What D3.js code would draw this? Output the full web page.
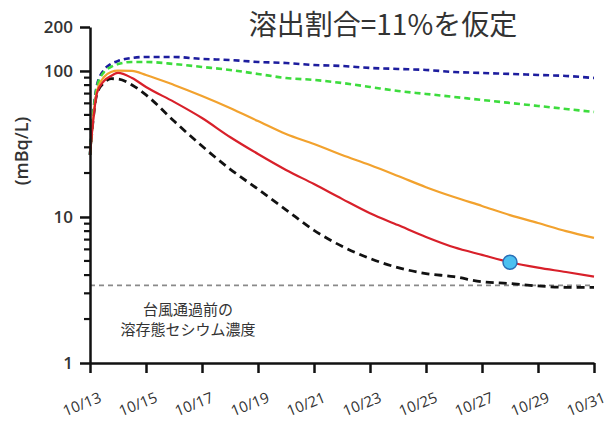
<!DOCTYPE html>
<html><head><meta charset="utf-8">
<script src="https://cdn.jsdelivr.net/npm/d3@7"></script>
<style>
body{margin:0;background:#fff;}
svg{display:block;}
text{font-family:"Open Sans","Noto Sans CJK JP",sans-serif;fill:#333;}
</style></head>
<body><svg id="c" width="605" height="425"></svg>
<script>
const days = [0,0.1,0.25,0.5,0.75,1,1.5,2,3,4,5,6,7,8,9,10,11,12,13,14,15,16,17,18];
const redSeries = [26.6,43,70.7,85.4,92.4,96.9,89.5,77.7,61.4,47.6,35.3,27.0,21.0,16.8,13.3,10.6,8.8,7.3,6.2,5.5,4.9,4.5,4.2,3.9];
const orangeSeries = [26.6,45,72.9,90.9,98.4,100.5,100,93.9,80.2,67.4,55.8,45.4,37.0,31.6,26.6,22.7,19.1,16.0,13.7,11.9,10.3,9.1,8.0,7.2];
const blackSeries = [26.6,44,70,83,88.5,88.1,80.2,68.5,45.4,30.6,21.3,15.5,11.2,8.1,6.3,5.2,4.5,4.1,3.9,3.6,3.5,3.37,3.3,3.3];
const blueSeries = [26.6,48,80.2,101.6,111.6,117,122.8,124.7,124.7,120.8,118.9,115.2,113.4,109.9,108.2,104.9,103.2,101.6,98.4,96.9,95.4,93.9,92.4,89.5];
const greenSeries = [26.6,47,78,98.4,106.5,111.6,115.2,115.2,111.6,106.5,101.6,95.4,89.5,86.8,82.7,77.7,72.9,69.6,66.4,63.3,60.4,57.6,54.9,52.4];
const baselineValue = 3.4;
const markerPoint = {day:15, value:4.9};
const xTickDays = [0,2,4,6,8,10,12,14,16,18];
const xTickLabels = ["10/13","10/15","10/17","10/19","10/21","10/23","10/25","10/27","10/29","10/31"];
const yTickValues = [1,10,100,200];
const yMinorValues = [2,3,4,5,6,7,8,9,20,30,40,50,60,70,80,90];
const titleText = "溶出割合=11%を仮定";
const annotationLines = ["台風通過前の","溶存態セシウム濃度"];
const yLabel = "(mBq/L)";

const svg = d3.select("#c");
const x = d3.scaleLinear().domain([0,18]).range([90,594]);
const y = d3.scaleLog().domain([1,200]).range([363,27]);

// baseline
svg.append("line").attr("x1",x(0)).attr("x2",x(18)).attr("y1",y(baselineValue)).attr("y2",y(baselineValue))
  .attr("stroke","#8a8a8a").attr("stroke-width",1.6).attr("stroke-dasharray","5,4");

const line = d3.line().x((d,i)=>x(days[i])).y(d=>y(d)).curve(d3.curveMonotoneX);
const series = [
  {v:blackSeries, c:"#111", w:2.8, dash:"8,5"},
  {v:blueSeries, c:"#1d1d9e", w:2.6, dash:"6,4"},
  {v:greenSeries, c:"#3ddc3d", w:2.6, dash:"6,4"},
  {v:orangeSeries, c:"#f2a22e", w:2.2, dash:null},
  {v:redSeries, c:"#d8202a", w:2.2, dash:null}
];
series.forEach(s=>{
  const p = svg.append("path").attr("d",line(s.v)).attr("fill","none")
    .attr("stroke",s.c).attr("stroke-width",s.w);
  if(s.dash) p.attr("stroke-dasharray",s.dash);
});

svg.append("circle").attr("cx",x(markerPoint.day)).attr("cy",y(markerPoint.value)).attr("r",7)
  .attr("fill","#4cc0f0").attr("stroke","#2a70b8").attr("stroke-width",1.5);

// axes
const gx = svg.append("g").attr("transform","translate(0,363)")
  .call(d3.axisBottom(x).tickValues(xTickDays).tickFormat(()=>"").tickSize(10).tickSizeOuter(0));
gx.select(".domain").attr("stroke","#111").attr("stroke-width",2.5);
gx.selectAll(".tick line").attr("stroke","#111").attr("stroke-width",2.5);
svg.append("g").selectAll("text").data(xTickDays).join("text")
  .attr("transform",(d)=>`translate(${x(d)-6},409) rotate(-22)`)
  .attr("text-anchor","middle").attr("font-size",15).text((d,i)=>xTickLabels[i]);

const gy = svg.append("g").attr("transform","translate(90,0)")
  .call(d3.axisLeft(y).tickValues(yTickValues).tickFormat(d3.format("d")).tickSize(10).tickSizeOuter(0).tickPadding(7));
gy.select(".domain").attr("stroke","#111").attr("stroke-width",2.5);
gy.selectAll(".tick line").attr("stroke","#111").attr("stroke-width",2.5);
gy.selectAll(".tick text").attr("font-size",17).attr("font-weight",600).attr("fill","#333")
  .attr("font-family","'Open Sans',sans-serif");
svg.append("g").selectAll("line").data(yMinorValues).join("line")
  .attr("x1",84).attr("x2",90).attr("y1",d=>y(d)).attr("y2",d=>y(d))
  .attr("stroke","#111").attr("stroke-width",2.2);

svg.append("text").attr("transform","translate(28,151) rotate(-90)").attr("text-anchor","middle")
  .attr("font-size",18).attr("font-weight",600).text(yLabel);

svg.append("text").attr("x",383).attr("y",35).attr("text-anchor","middle")
  .attr("font-size",28).style("font-family","'Noto Sans CJK JP',sans-serif").text(titleText);

svg.append("g").selectAll("text").data(annotationLines).join("text")
  .attr("x",188).attr("y",(d,i)=>315+i*20).attr("text-anchor","middle")
  .attr("font-size",15).style("font-family","'Noto Sans CJK JP',sans-serif").text(d=>d);
</script></body></html>
